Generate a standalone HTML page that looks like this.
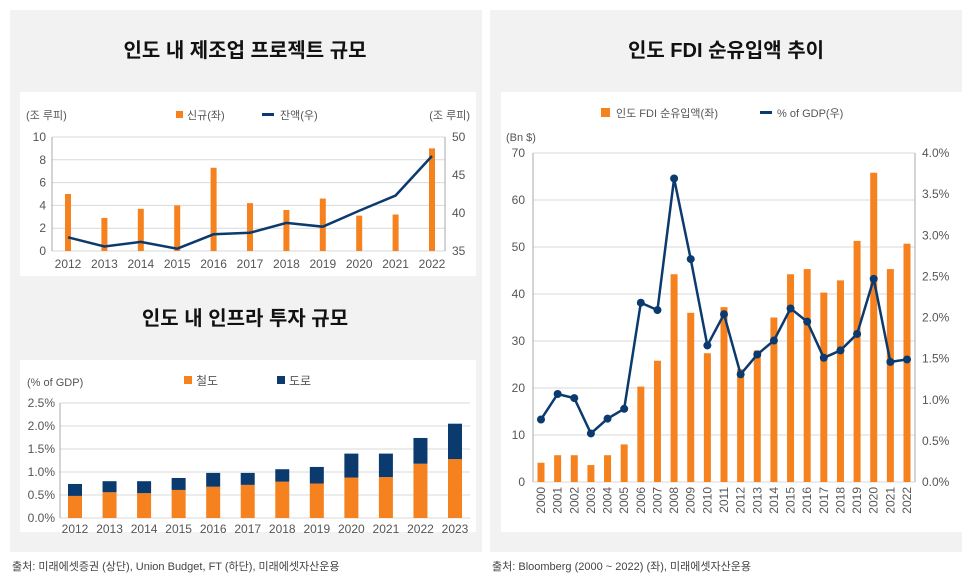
<!DOCTYPE html>
<html><head><meta charset="utf-8">
<style>
body{margin:0;width:972px;height:577px;background:#fff;font-family:"Liberation Sans","Noto Sans CJK KR",sans-serif;overflow:hidden}
svg{display:block}
text{font-family:"Liberation Sans","Noto Sans CJK KR",sans-serif}
</style></head><body>
<svg id="svg" width="972" height="577">
<rect x="10" y="10" width="472" height="542" fill="#f2f2f2"/>
<rect x="490" y="10" width="472" height="542" fill="#f2f2f2"/>
<rect x="20" y="92" width="456" height="184" fill="#fff"/>
<rect x="20" y="360" width="456" height="172" fill="#fff"/>
<rect x="501" y="92" width="461" height="440" fill="#fff"/>
<text x="245" y="57" text-anchor="middle" font-size="20" font-weight="bold" fill="#111">인도 내 제조업 프로젝트 규모</text>
<text x="245" y="325" text-anchor="middle" font-size="20" font-weight="bold" fill="#111">인도 내 인프라 투자 규모</text>
<text x="726" y="57" text-anchor="middle" font-size="20" font-weight="bold" fill="#111">인도 FDI 순유입액 추이</text>
<text x="12" y="570" font-size="11" fill="#444">출처: 미래에셋증권 (상단), Union Budget, FT (하단), 미래에셋자산운용</text>
<text x="492" y="570" font-size="11" fill="#444">출처: Bloomberg (2000 ~ 2022) (좌), 미래에셋자산운용</text>
<g id="c1"></g><g id="c2"></g><g id="c3"></g>
</svg>
<script>
// Chart 1: manufacturing projects
const c1Years=["2012","2013","2014","2015","2016","2017","2018","2019","2020","2021","2022"];
const c1New=[5.0,2.9,3.7,4.0,7.3,4.2,3.6,4.6,3.1,3.2,9.0];
const c1Bal=[36.8,35.6,36.2,35.3,37.2,37.4,38.7,38.2,40.3,42.3,47.5];
const c1LeftTicks=[0,2,4,6,8,10];
const c1RightTicks=[35,40,45,50];
// Chart 2: infra investment
const c2Years=["2012","2013","2014","2015","2016","2017","2018","2019","2020","2021","2022","2023"];
const c2Rail=[0.48,0.56,0.54,0.61,0.68,0.72,0.79,0.75,0.88,0.89,1.18,1.28];
const c2Road=[0.26,0.24,0.26,0.26,0.30,0.26,0.27,0.36,0.52,0.51,0.56,0.77];
const c2Ticks=[0,0.5,1.0,1.5,2.0,2.5];
// Chart 3: FDI
const c3Years=["2000","2001","2002","2003","2004","2005","2006","2007","2008","2009","2010","2011","2012","2013","2014","2015","2016","2017","2018","2019","2020","2021","2022"];
const c3Fdi=[4.1,5.7,5.7,3.6,5.7,8.0,20.3,25.8,44.2,36.0,27.4,37.2,24.0,28.0,35.0,44.2,45.3,40.3,42.9,51.3,65.8,45.3,50.7];
const c3Gdp=[0.76,1.07,1.02,0.59,0.77,0.89,2.18,2.09,3.69,2.71,1.66,2.04,1.31,1.55,1.72,2.11,1.95,1.51,1.60,1.80,2.47,1.46,1.49];
const c3LeftTicks=[0,10,20,30,40,50,60,70];
const c3RightTicks=[0,0.5,1.0,1.5,2.0,2.5,3.0,3.5,4.0];

const NS="http://www.w3.org/2000/svg";
function mk(parent,tag,attrs,txt){const e=document.createElementNS(NS,tag);for(const k in attrs)e.setAttribute(k,attrs[k]);if(txt!==undefined)e.textContent=txt;parent.appendChild(e);return e;}
const OR="#f5821f",NV="#0b3a6e",GR="#d9d9d9",TX="#555";

// ---- chart 1
(function(){
const g=document.getElementById('c1');
const L=52,R=445,T=137,B=251;
const y=v=>B-(v/10)*(B-T);
const yr=v=>B-((v-35)/15)*(B-T);
const step=(432-68)/10;const x=i=>68+i*step;
c1LeftTicks.forEach(t=>{
 const gl=mk(g,'line',{x1:L,x2:R,y1:y(t),y2:y(t),stroke:GR});
 
 
 const tl=mk(g,'text',{x:L-6,y:y(t)+4,'text-anchor':'end','font-size':12,fill:TX},String(t));
 
 
});
c1RightTicks.forEach(t=>{
 const tl=mk(g,'text',{x:R+7,y:yr(t)+4,'font-size':12,fill:TX},String(t));
 
 
});
mk(g,'line',{x1:L,x2:L,y1:T,y2:B,stroke:'#aaa'});
mk(g,'line',{x1:R,x2:R,y1:T,y2:B,stroke:'#aaa'});
c1Years.forEach((c,i)=>{
 const b=mk(g,'rect',{x:x(i)-3,y:y(c1New[i]),width:6,height:B-y(c1New[i]),fill:OR});
 
 
 const t=mk(g,'text',{x:x(i),y:B+17,'text-anchor':'middle','font-size':12,fill:TX},c);
 
 
});
const ln=mk(g,'polyline',{points:c1Bal.map((v,i)=>x(i)+','+yr(v)).join(' '),fill:'none',stroke:NV,'stroke-width':2.5});


mk(g,'text',{x:26,y:119,'font-size':11,fill:TX},'(조 루피)');
mk(g,'text',{x:470,y:119,'text-anchor':'end','font-size':11,fill:TX},'(조 루피)');
mk(g,'rect',{x:176,y:111,width:7,height:7,fill:OR});
mk(g,'text',{x:187,y:119,'font-size':11,fill:TX},'신규(좌)');
mk(g,'rect',{x:262,y:113,width:12,height:3,fill:NV});
mk(g,'text',{x:280,y:119,'font-size':11,fill:TX},'잔액(우)');
})();

// ---- chart 2
(function(){
const g=document.getElementById('c2');
const L=60,R=470,T=403,B=518;
const y=v=>B-(v/2.5)*(B-T);
const step=(455-75)/11;const x=i=>75+i*step;
c2Ticks.forEach(t=>{
 const gl=mk(g,'line',{x1:L,x2:R,y1:y(t),y2:y(t),stroke:GR});
 
 
 const tl=mk(g,'text',{x:L-5,y:y(t)+4,'text-anchor':'end','font-size':12,fill:TX},t.toFixed(1)+'%');
 
 
});
mk(g,'line',{x1:L,x2:L,y1:T,y2:B,stroke:'#aaa'});
c2Years.forEach((c,i)=>{
 const r=mk(g,'rect',{x:x(i)-7,y:y(c2Rail[i]),width:14,height:B-y(c2Rail[i]),fill:OR});
 
 
 const top=c2Rail[i]+c2Road[i];
 const d=mk(g,'rect',{x:x(i)-7,y:y(top),width:14,height:y(c2Rail[i])-y(top),fill:NV});
 
 
 const t=mk(g,'text',{x:x(i),y:B+15,'text-anchor':'middle','font-size':12,fill:TX},c);
 
 
});
mk(g,'text',{x:27,y:386,'font-size':11,fill:TX},'(% of GDP)');
mk(g,'rect',{x:184,y:376,width:8,height:8,fill:OR});
mk(g,'text',{x:196,y:385,'font-size':12,fill:TX},'철도');
mk(g,'rect',{x:277,y:376,width:8,height:8,fill:NV});
mk(g,'text',{x:289,y:385,'font-size':12,fill:TX},'도로');
})();

// ---- chart 3
(function(){
const g=document.getElementById('c3');
const L=533,R=915,T=153,B=482;
const y=v=>B-(v/70)*(B-T);
const yr=v=>B-(v/4)*(B-T);
const step=(907-541)/22;const x=i=>541+i*step;
c3LeftTicks.forEach(t=>{
 const gl=mk(g,'line',{x1:L,x2:R,y1:y(t),y2:y(t),stroke:GR});
 
 
 const tl=mk(g,'text',{x:L-8,y:y(t)+4,'text-anchor':'end','font-size':12,fill:TX},String(t));
 
 
});
c3RightTicks.forEach(t=>{
 const tl=mk(g,'text',{x:R+7,y:yr(t)+4,'font-size':12,fill:TX},t.toFixed(1)+'%');
 
 
});
mk(g,'line',{x1:L,x2:L,y1:T,y2:B,stroke:'#aaa'});
mk(g,'line',{x1:R,x2:R,y1:T,y2:B,stroke:'#aaa'});
c3Years.forEach((c,i)=>{
 const b=mk(g,'rect',{x:x(i)-3.5,y:y(c3Fdi[i]),width:7,height:B-y(c3Fdi[i]),fill:OR});
 
 
 const t=mk(g,'text',{x:0,y:0,'text-anchor':'end','font-size':12,fill:TX,transform:'translate('+(x(i)+4)+','+(B+5)+') rotate(-90)'},c);
 
 
});
const ln=mk(g,'polyline',{points:c3Gdp.map((v,i)=>x(i)+','+yr(v)).join(' '),fill:'none',stroke:NV,'stroke-width':2.5});


c3Gdp.forEach((v,i)=>{
 const p=mk(g,'circle',{cx:x(i),cy:yr(v),r:4,fill:NV});
 
 
});
mk(g,'text',{x:506,y:141,'font-size':11,fill:TX},'(Bn $)');
mk(g,'rect',{x:601,y:108,width:9,height:9,fill:OR});
mk(g,'text',{x:616,y:117,'font-size':11,fill:TX},'인도 FDI 순유입액(좌)');
mk(g,'rect',{x:760,y:111,width:12,height:3,fill:NV});
mk(g,'text',{x:777,y:117,'font-size':11,fill:TX},'% of GDP(우)');
})();
</script>
</body></html>
